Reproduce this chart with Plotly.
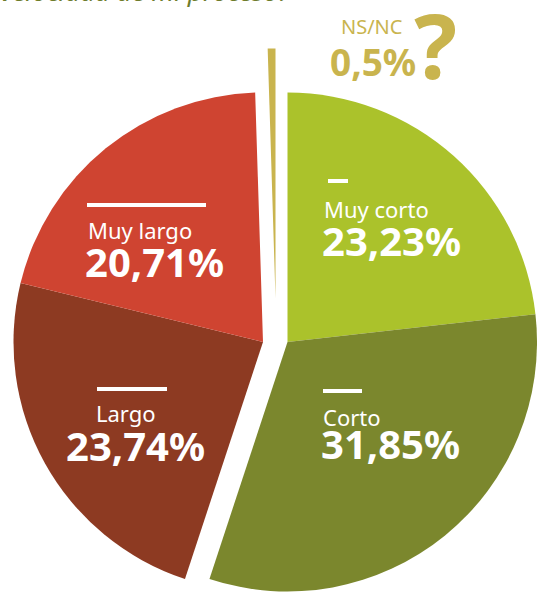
import plotly.graph_objects as go

# ---- data ----
categories = ["Muy corto", "Corto", "Largo", "Muy largo", "NS/NC"]
values = [23.23, 31.85, 23.74, 20.71, 0.5]
colors = ["#abc22b", "#7b872d", "#8d3a22", "#cf4431", "#c9b44e"]
title_text = "la velocidad de mi proceso?"

W, H = 537, 592
TRANSP = "rgba(0,0,0,0)"


def fmt(v):
    return ("%g" % v).replace(".", ",") + "%"


def dom(cx, cy, r):
    return dict(x=[max(0, (cx - r) / W), min(1, (cx + r) / W)],
                y=[max(0, 1 - (cy + r) / H), min(1, 1 - (cy - r) / H)])


def px(x):
    return x / W


def py(y):
    return 1 - y / H


R = 249.5
groups = [
    ([0, 1], (287.5, 342)),   # right half (short durations)
    ([2, 3], (263, 342)),     # left half (long durations)
    ([4], (275.5, 298)),      # NS/NC sliver, pulled up
]

fig = go.Figure()
for idx, (cx, cy) in groups:
    cols = [colors[i] if i in idx else TRANSP for i in range(len(values))]
    fig.add_trace(go.Pie(
        labels=categories, values=values, sort=False,
        direction="clockwise", rotation=0,
        marker=dict(colors=cols, line=dict(width=0)),
        textinfo="none", hoverinfo="label+percent",
        domain=dom(cx, cy, R), showlegend=False,
    ))

FONT = "Noto Sans"
annos = []
shapes = []
# label placements: (category index, bar x0, bar x1, bar y, label x, label y, pct x, pct y)
place = [
    (0, 328, 348, 181, 322, 209, 320, 240),
    (1, 323, 362, 391, 321, 417, 319, 443),
    (2, 97, 167, 389, 94, 413, 64, 445),
    (3, 87, 206, 205, 86, 230, 83, 261),
]
for i, bx0, bx1, by, lx, ly, qx, qy in place:
    shapes.append(dict(type="line", xref="paper", yref="paper",
                       x0=px(bx0), x1=px(bx1), y0=py(by), y1=py(by),
                       line=dict(color="white", width=4)))
    annos.append(dict(x=px(lx), y=py(ly), xref="paper", yref="paper",
                      text=categories[i], showarrow=False, xanchor="left",
                      yanchor="middle",
                      font=dict(family=FONT, size=22, color="white")))
    annos.append(dict(x=px(qx), y=py(qy), xref="paper", yref="paper",
                      text="<b>" + fmt(values[i]) + "</b>", showarrow=False,
                      xanchor="left", yanchor="middle",
                      font=dict(family=FONT, size=40, color="white")))

gold = colors[4]
annos.append(dict(x=px(405), y=py(26), xref="paper", yref="paper",
                  text=categories[4], showarrow=False, xanchor="right",
                  yanchor="middle", font=dict(family=FONT, size=20, color=gold)))
annos.append(dict(x=px(418), y=py(62), xref="paper", yref="paper",
                  text="<b>" + fmt(values[4]) + "</b>", showarrow=False,
                  xanchor="right", yanchor="middle",
                  font=dict(family=FONT, size=37, color=gold)))
annos.append(dict(x=px(412), y=py(44), xref="paper", yref="paper",
                  text="<b>?</b>", showarrow=False, xanchor="left",
                  yanchor="middle", font=dict(family=FONT, size=90, color=gold)))
# cropped title at the top edge
annos.append(dict(x=px(292), y=py(10.5), xref="paper", yref="paper",
                  text="<i>" + title_text + "</i>", showarrow=False,
                  xanchor="right", yanchor="bottom",
                  font=dict(family=FONT, size=26, color="#6e7c2c")))

fig.update_layout(
    width=W, height=H, autosize=False,
    margin=dict(l=0, r=0, t=0, b=0),
    paper_bgcolor="white", plot_bgcolor="white",
    annotations=annos, shapes=shapes,
)

fig.write_html("out.html", config={"displayModeBar": False},
               post_script="document.body.style.margin='0';")
